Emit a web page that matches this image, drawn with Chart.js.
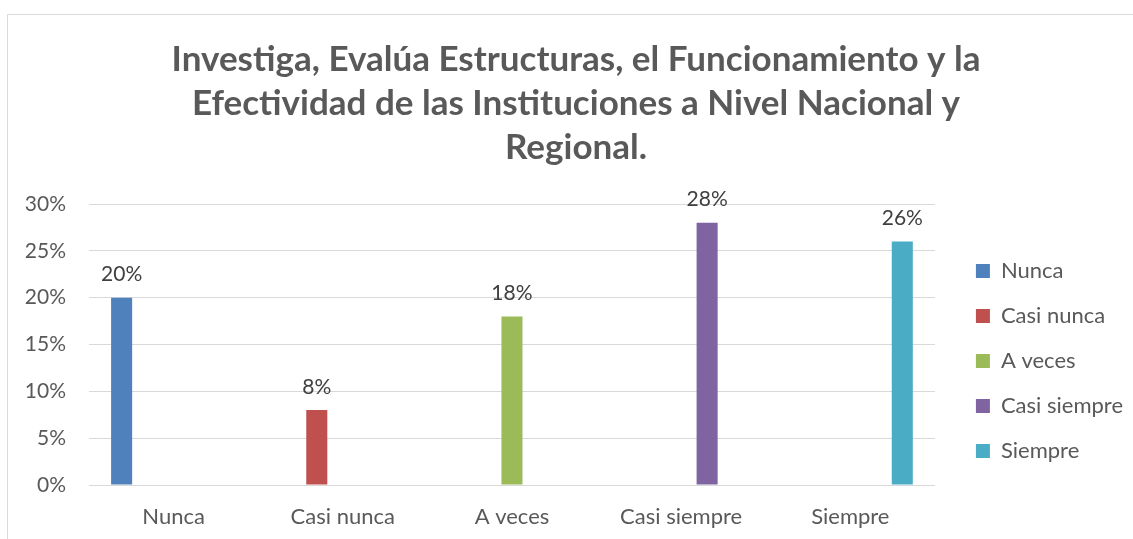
<!DOCTYPE html>
<html>
<head>
<meta charset="utf-8">
<script src="https://cdn.jsdelivr.net/npm/chart.js@4.4.0/dist/chart.umd.min.js"></script>
<style>
html,body{margin:0;padding:0;background:#fff;}
#wrap{position:relative;width:1133px;height:539px;}
</style>
</head>
<body>
<div id="wrap"><canvas id="c" width="1133" height="539"></canvas></div>
<script>
const titleLines = [
  'Investiga, Evalúa Estructuras, el Funcionamiento y la',
  'Efectividad de las Instituciones a Nivel Nacional y',
  'Regional.'
];
const categories = ['Nunca', 'Casi nunca', 'A veces', 'Casi siempre', 'Siempre'];
const seriesNames = ['Nunca', 'Casi nunca', 'A veces', 'Casi siempre', 'Siempre'];
const nunca       = [20, null, null, null, null];
const casiNunca   = [null, 8, null, null, null];
const aVeces      = [null, null, 18, null, null];
const casiSiempre = [null, null, null, 28, null];
const siempre     = [null, null, null, null, 26];
const yTicks = [0, 5, 10, 15, 20, 25, 30];
const seriesColors = ['#4F81BD', '#C0504D', '#9BBB59', '#8064A2', '#4BACC6'];

const seriesData = [nunca, casiNunca, aVeces, casiSiempre, siempre];
const FONT = 'Lato';

const valueLabels = {
  id: 'valueLabels',
  afterDatasetsDraw(chart) {
    const ctx = chart.ctx;
    ctx.save();
    ctx.font = '21px ' + FONT;
    ctx.fillStyle = '#404040';
    ctx.textAlign = 'center';
    ctx.textBaseline = 'middle';
    chart.data.datasets.forEach((ds, i) => {
      const meta = chart.getDatasetMeta(i);
      meta.data.forEach((el, j) => {
        const v = ds.data[j];
        if (v === null || v === undefined) return;
        ctx.fillText(v + '%', el.x, el.y - 23);
      });
    });
    ctx.restore();
  }
};

const frame = {
  id: 'frame',
  afterDraw(chart) {
    const ctx = chart.ctx;
    ctx.save();
    ctx.strokeStyle = '#d9d9d9';
    ctx.lineWidth = 1;
    ctx.beginPath();
    ctx.moveTo(7.5, 539);
    ctx.lineTo(7.5, 14.5);
    ctx.lineTo(1133, 14.5);
    ctx.stroke();
    ctx.restore();
  }
};

new Chart(document.getElementById('c'), {
  type: 'bar',
  data: {
    labels: categories,
    datasets: seriesNames.map((name, i) => ({
      label: name,
      data: seriesData[i],
      backgroundColor: seriesColors[i],
      borderWidth: 0,
      categoryPercentage: 0.768,
      barPercentage: 0.81
    }))
  },
  options: {
    responsive: false,
    animation: false,
    devicePixelRatio: 1,
    layout: { padding: { top: 0, left: 19, right: 0, bottom: 0 } },
    plugins: {
      title: {
        display: true,
        text: titleLines,
        color: '#595959',
        font: { family: FONT, size: 35, weight: 'bold', lineHeight: 44 / 35 },
        padding: { top: 38, bottom: 34 }
      },
      legend: {
        position: 'right',
        align: 'end',
        fullSize: false,
        labels: {
          boxWidth: 14,
          boxHeight: 14,
          padding: 23,
          color: '#595959',
          font: { family: FONT, size: 22 }
        }
      },
      tooltip: { enabled: false }
    },
    scales: {
      x: {
        grid: { display: false, drawTicks: false },
        border: { display: true, color: '#d9d9d9' },
        ticks: { color: '#595959', font: { family: FONT, size: 22 }, padding: 19 },
        afterFit(s) { s.height = 54; }
      },
      y: {
        min: 0,
        max: 30,
        grid: { color: '#d9d9d9', drawTicks: false },
        border: { display: false },
        ticks: {
          stepSize: 5,
          color: '#595959',
          font: { family: FONT, size: 21 },
          padding: 23,
          callback: (v) => yTicks.includes(v) ? v + '%' : ''
        },
        afterFit(s) { s.width = 70; }
      },
      y2: {
        position: 'right',
        grid: { display: false, drawTicks: false },
        border: { display: false },
        ticks: { display: false },
        afterFit(s) { s.width = 18; }
      }
    }
  },
  plugins: [valueLabels, frame]
});
</script>
</body>
</html>
